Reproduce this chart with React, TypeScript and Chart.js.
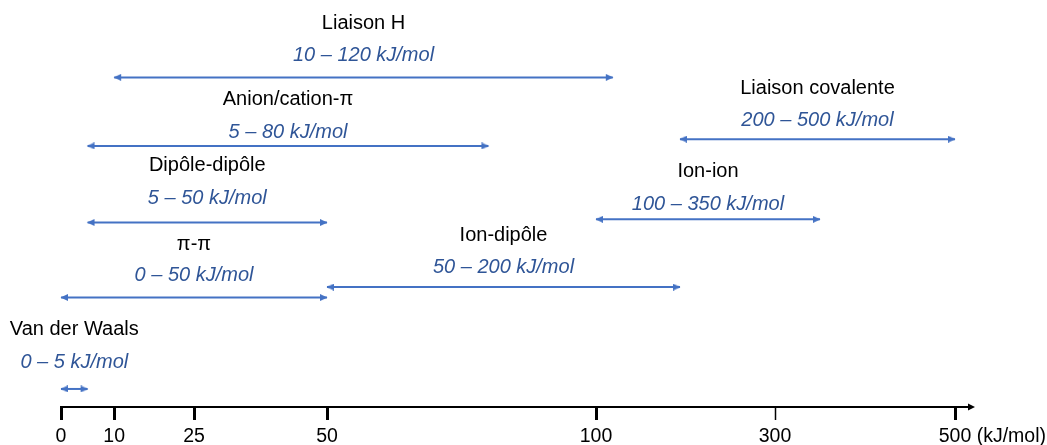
import React, { useEffect, useRef } from "react";
import { Chart, LineController, LineElement, PointElement, LinearScale } from "chart.js";

// ---- data ----
const NAMES = [
  "Liaison H",
  "Anion/cation-π",
  "Dipôle-dipôle",
  "π-π",
  "Ion-dipôle",
  "Ion-ion",
  "Liaison covalente",
  "Van der Waals",
];
const LOW = [10, 5, 5, 0, 50, 100, 200, 0];
const HIGH = [120, 80, 50, 50, 200, 350, 500, 5];
// vertical row of each arrow (arbitrary 0–100 units, 0 = axis)
const ROW_LEVEL = [82.2, 65.1, 46.0, 27.3, 29.9, 46.8, 66.8, 4.5];
const TICK_VALUES = [0, 10, 25, 50, 100, 300, 500];
const UNIT = "kJ/mol";
const AXIS_UNIT_LABEL = "(kJ/mol)";
// non-uniform axis: anchor values and relative length of each segment
const AXIS_ANCHORS = [0, 50, 100, 200, 300, 500];
const AXIS_SEGMENTS = [266, 269, 84, 95, 180];

// ---- layout / style ----
const NAME_GAP = [54, 46, 57, 53, 52, 48, 51, 59];
const RANGE_GAP = [22, 14, 24, 22, 20, 15, 19, 27];
const FONT = '"Liberation Sans", Arial, Helvetica, sans-serif';
const ARROW_COLOR = "#4472C4";
const RANGE_COLOR = "#2F5597";
const TEXT_SIZE = 20;
const TICK_SIZE = 19.5;
const TICK_LENGTH = 13;
const TICK_PADDING = 5;

function warp(v: number) {
  let acc = 0;
  const n = AXIS_SEGMENTS.length;
  for (let i = 0; i < n; i++) {
    const a = AXIS_ANCHORS[i];
    const b = AXIS_ANCHORS[i + 1];
    if (v <= b || i === n - 1) return acc + ((v - a) / (b - a)) * AXIS_SEGMENTS[i];
    acc += AXIS_SEGMENTS[i];
  }
  return acc;
}
function unwarp(t: number) {
  let acc = 0;
  const n = AXIS_SEGMENTS.length;
  for (let i = 0; i < n; i++) {
    const a = AXIS_ANCHORS[i];
    const b = AXIS_ANCHORS[i + 1];
    if (t <= acc + AXIS_SEGMENTS[i] || i === n - 1)
      return a + ((t - acc) / AXIS_SEGMENTS[i]) * (b - a);
    acc += AXIS_SEGMENTS[i];
  }
  return t;
}

class BrokenLinearScale extends LinearScale {
  static id = "brokenLinear";
  static defaults = {};
  buildTicks() {
    return TICK_VALUES.map((v) => ({ value: v }));
  }
  getPixelForValue(value: number) {
    const a = warp(this.min);
    const b = warp(this.max);
    return this.getPixelForDecimal((warp(value) - a) / (b - a));
  }
  getValueForPixel(pixel: number) {
    const a = warp(this.min);
    const b = warp(this.max);
    return unwarp(a + this.getDecimalForPixel(pixel) * (b - a));
  }
}

Chart.register(LineController, LineElement, PointElement, LinearScale, BrokenLinearScale);

// arrow head whose tip sits at the image centre (points right)
function makeArrowHead(color: string) {
  const c = document.createElement("canvas");
  c.width = 16;
  c.height = 7;
  const g = c.getContext("2d")!;
  g.fillStyle = color;
  g.beginPath();
  g.moveTo(8.5, 3.5);
  g.lineTo(1, 0);
  g.lineTo(1, 7);
  g.closePath();
  g.fill();
  return c;
}

const labelPlugin = {
  id: "rangeLabels",
  afterDraw(chart: any) {
    const { ctx, chartArea } = chart;
    const x = chart.scales.x;
    const y = chart.scales.y;
    ctx.save();
    ctx.textAlign = "center";
    ctx.textBaseline = "middle";
    NAMES.forEach((name, i) => {
      const cx = (x.getPixelForValue(LOW[i]) + x.getPixelForValue(HIGH[i])) / 2;
      const cy = y.getPixelForValue(ROW_LEVEL[i]);
      ctx.font = `${TEXT_SIZE}px ${FONT}`;
      ctx.fillStyle = "#000";
      ctx.fillText(name, cx, cy - NAME_GAP[i]);
      ctx.font = `italic ${TEXT_SIZE}px ${FONT}`;
      ctx.fillStyle = RANGE_COLOR;
      ctx.fillText(`${LOW[i]} – ${HIGH[i]} ${UNIT}`, cx, cy - RANGE_GAP[i]);
    });

    // axis arrow extension
    const ay = Math.round(chartArea.bottom);
    const xr = chartArea.right;
    ctx.strokeStyle = "#000";
    ctx.fillStyle = "#000";
    ctx.lineWidth = 2;
    ctx.beginPath();
    ctx.moveTo(xr - 1, ay);
    ctx.lineTo(xr + 15, ay);
    ctx.stroke();
    ctx.beginPath();
    ctx.moveTo(xr + 20, ay);
    ctx.lineTo(xr + 13, ay - 3.5);
    ctx.lineTo(xr + 13, ay + 3.5);
    ctx.closePath();
    ctx.fill();

    // unit after last tick label
    const lastVal = TICK_VALUES[TICK_VALUES.length - 1];
    ctx.font = `${TICK_SIZE}px ${FONT}`;
    const lw = ctx.measureText(String(lastVal)).width;
    const sp = ctx.measureText(" ").width;
    const ly = chartArea.bottom + TICK_LENGTH + TICK_PADDING + (TICK_SIZE * 1.2) / 2;
    ctx.textAlign = "left";
    ctx.fillText(AXIS_UNIT_LABEL, x.getPixelForValue(lastVal) + lw / 2 + sp, ly);
    ctx.restore();
  },
};

export default function App() {
  const ref = useRef<HTMLCanvasElement>(null);
  useEffect(() => {
    if (!ref.current) return;
    const head = makeArrowHead(ARROW_COLOR);
    const chart = new Chart(ref.current, {
      type: "line",
      data: {
        datasets: NAMES.map((n, i) => ({
          label: n,
          data: [
            { x: LOW[i], y: ROW_LEVEL[i] },
            { x: HIGH[i], y: ROW_LEVEL[i] },
          ],
          borderColor: ARROW_COLOR,
          backgroundColor: ARROW_COLOR,
          borderWidth: 2,
          pointStyle: head as any,
          pointRadius: 4,
          pointRotation: (c: any) => (c.dataIndex === 0 ? 180 : 0),
          clip: false as any,
        })),
      },
      options: {
        responsive: false,
        animation: false,
        events: [],
        layout: { padding: { left: 61, right: 92, top: 0, bottom: 0 } },
        plugins: { legend: { display: false }, tooltip: { enabled: false } },
        scales: {
          x: {
            type: "brokenLinear" as any,
            min: 0,
            max: 500,
            position: "bottom",
            afterFit: (s: any) => {
              s.height = 38;
            },
            grid: {
              drawOnChartArea: false,
              drawTicks: true,
              tickLength: TICK_LENGTH,
              tickColor: "#000",
              tickWidth: (c: any) => (c.tick && c.tick.value === 300 ? 1.5 : 3),
            },
            border: { display: true, color: "#000", width: 2 },
            ticks: {
              color: "#000",
              font: { size: TICK_SIZE, family: FONT },
              padding: TICK_PADDING,
              maxRotation: 0,
              autoSkip: false,
              callback: (v: any) => String(v),
            },
          } as any,
          y: { type: "linear", min: 0, max: 100, display: false },
        },
      },
      plugins: [labelPlugin],
    });
    return () => chart.destroy();
  }, []);
  return (
    <div style={{ position: "fixed", left: 0, top: 0, width: 1047, height: 445, background: "#fff" }}>
      <canvas ref={ref} width={1047} height={445} />
    </div>
  );
}
